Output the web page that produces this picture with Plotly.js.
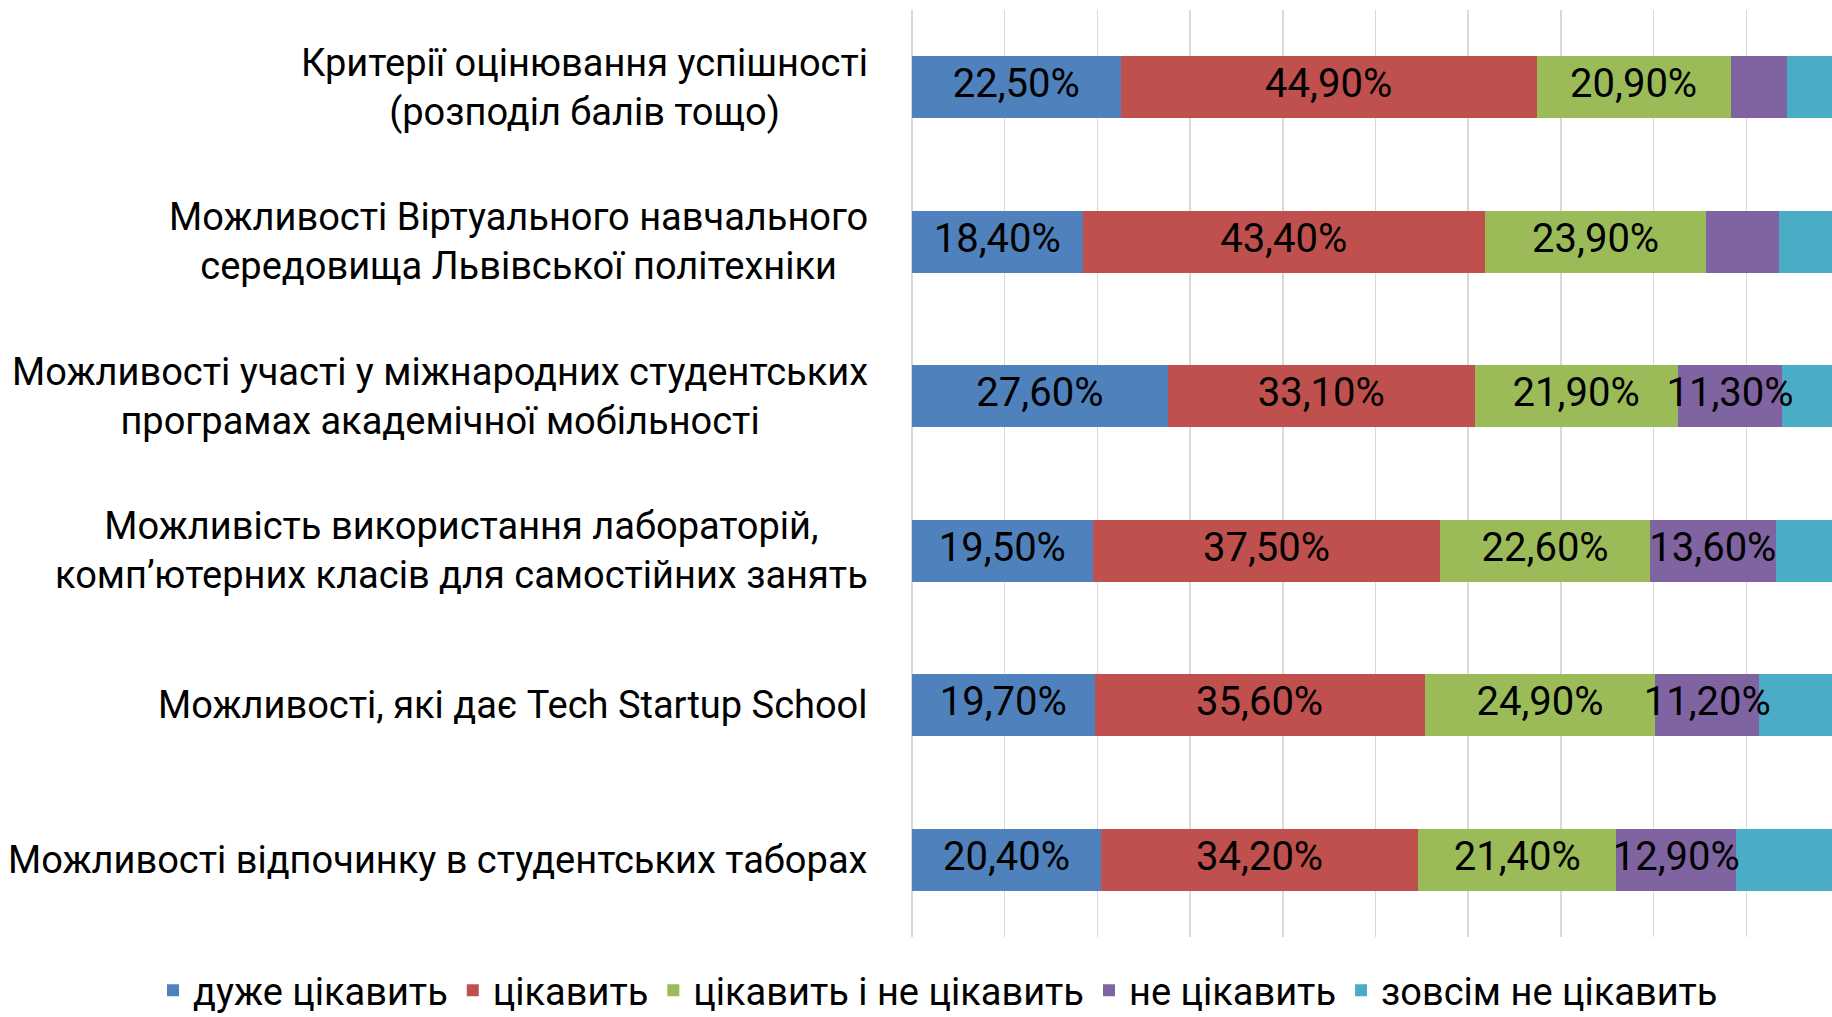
<!DOCTYPE html>
<html>
<head>
<meta charset="utf-8">
<script src="https://cdn.plot.ly/plotly-3.0.1.min.js"></script>
<style>html,body{margin:0;padding:0;background:#fff;}#chart{width:1832px;height:1017px;}</style>
</head>
<body>
<div id="chart"></div>
<script>
const categories = [
  "Критерії оцінювання успішності<br>(розподіл балів тощо)",
  "Можливості Віртуального навчального<br>середовища Львівської політехніки",
  "Можливості участі у міжнародних студентських<br>програмах академічної мобільності",
  "Можливість використання лабораторій,<br>комп’ютерних класів для самостійних занять",
  "Можливості, які дає Tech Startup School",
  "Можливості відпочинку в студентських таборах"
];
const seriesNames = ["дуже цікавить", "цікавить", "цікавить і не цікавить", "не цікавить", "зовсім не цікавить"];
const veryInterested = [22.5, 18.4, 27.6, 19.5, 19.7, 20.4];
const interested     = [44.9, 43.4, 33.1, 37.5, 35.6, 34.2];
const neutral        = [20.9, 23.9, 21.9, 22.6, 24.9, 21.4];
const notInterested  = [6.1, 7.8, 11.3, 13.6, 11.2, 12.9];
const notAtAll       = [5.6, 6.6, 6.1, 6.8, 8.6, 11.1];
// which segments carry a data label in the original
const veryInterestedLabelled = [true, true, true, true, true, true];
const interestedLabelled     = [true, true, true, true, true, true];
const neutralLabelled        = [true, true, true, true, true, true];
const notInterestedLabelled  = [false, false, true, true, true, true];
const notAtAllLabelled       = [false, false, false, false, false, false];

const colors = ["#4F81BD", "#C0504D", "#9BBB59", "#8064A2", "#4BACC6"];
const FONT = "Roboto, 'Open Sans', sans-serif";

function fmt(v) { return v.toFixed(2).replace('.', ',') + '%'; }

const valueSets = [veryInterested, interested, neutral, notInterested, notAtAll];
const labelSets = [veryInterestedLabelled, interestedLabelled, neutralLabelled, notInterestedLabelled, notAtAllLabelled];

const traces = valueSets.map((vals, i) => ({
  type: 'bar',
  orientation: 'h',
  name: seriesNames[i],
  y: categories,
  x: vals,
  marker: {color: colors[i], line: {width: 0}},
  hoverinfo: 'skip'
}));

// data labels drawn on top of all bars (scatter layer sits above bar layer)
const running = categories.map(() => 0);
valueSets.forEach((vals, i) => {
  const mids = vals.map((v, j) => running[j] + v / 2);
  vals.forEach((v, j) => { running[j] += v; });
  const xs = [], ys = [], ts = [];
  vals.forEach((v, j) => {
    if (labelSets[i][j]) { xs.push(mids[j]); ys.push(categories[j]); ts.push(fmt(v)); }
  });
  if (xs.length) {
    traces.push({
      type: 'scatter', mode: 'text',
      x: xs, y: ys, text: ts,
      textposition: 'middle center',
      textfont: {family: FONT, size: 40, color: '#000'},
      showlegend: false, hoverinfo: 'skip', cliponaxis: false
    });
  }
});

const annotations = categories.map(c => ({
  xref: 'paper', yref: 'y',
  x: 870 / 1832, y: c,
  xanchor: 'right', yanchor: 'middle',
  align: 'center',
  text: c,
  showarrow: false,
  font: {family: FONT, size: 38, color: '#000'}
}));

const layout = {
  width: 1832, height: 1017,
  margin: {l: 0, r: 0, t: 10, b: 80},
  barmode: 'stack',
  bargap: 0.6,
  paper_bgcolor: '#fff', plot_bgcolor: 'rgba(0,0,0,0)',
  xaxis: {
    domain: [912 / 1832, 1],
    range: [0, 99.25], dtick: 10, tick0: 0,
    showgrid: true, gridcolor: '#D9D9D9', gridwidth: 1.5,
    zeroline: true, zerolinecolor: '#D9D9D9', zerolinewidth: 1.5,
    showticklabels: false, ticks: '', showline: false, fixedrange: true
  },
  yaxis: {
    autorange: 'reversed', showticklabels: false, ticks: '',
    showgrid: false, zeroline: false, showline: false, fixedrange: true
  },
  annotations: annotations,
  showlegend: true,
  legend: {
    orientation: 'h', xref: 'container', yref: 'container',
    x: 0.512, xanchor: 'center', y: 0.026, yanchor: 'middle',
    traceorder: 'normal',
    font: {family: FONT, size: 38, color: '#000'},
    itemclick: false, itemdoubleclick: false
  }
};

Plotly.newPlot('chart', traces, layout, {displayModeBar: false, staticPlot: true});
</script>
</body>
</html>
